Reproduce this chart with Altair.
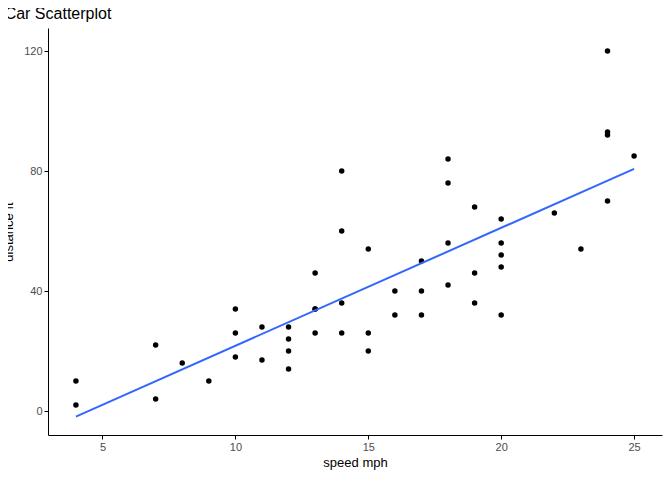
import altair as alt
import pandas as pd

speed = [4, 4, 7, 7, 8, 9, 10, 10, 10, 11, 11, 12, 12, 12, 12, 13, 13, 13, 13, 14,
         14, 14, 14, 15, 15, 15, 16, 16, 17, 17, 17, 18, 18, 18, 18, 19, 19, 19, 20, 20,
         20, 20, 20, 22, 23, 24, 24, 24, 24, 25]
dist = [2, 10, 4, 22, 16, 10, 18, 26, 34, 17, 28, 14, 20, 24, 28, 26, 34, 34, 46, 26,
        36, 60, 80, 20, 26, 54, 32, 40, 32, 40, 50, 42, 56, 76, 84, 36, 46, 68, 32, 48,
        52, 56, 64, 66, 54, 70, 92, 93, 120, 85]

source = pd.DataFrame({"speed": speed, "dist": dist})

xs = alt.Scale(domain=[2.95, 26.05], nice=False, zero=False)
ys = alt.Scale(domain=[-8, 127.7], nice=False, zero=False)
xax = alt.Axis(values=[5, 10, 15, 20, 25], grid=False, title="speed mph")
yax = alt.Axis(values=[0, 40, 80, 120], grid=False, title="distance ft", titlePadding=8)

base = alt.Chart(source)

points = base.mark_circle(size=30, color="black", opacity=1).encode(
    alt.X("speed:Q", scale=xs, axis=xax),
    alt.Y("dist:Q", scale=ys, axis=yax),
)

line = base.transform_regression("speed", "dist").mark_line(
    color="#3366FF", strokeWidth=2
).encode(
    alt.X("speed:Q", scale=xs, axis=xax),
    alt.Y("dist:Q", scale=ys, axis=yax),
)

chart = (
    alt.layer(points, line)
    .properties(
        width=614,
        height=407,
        autosize=alt.AutoSizeParams(type="none"),
        padding={"left": 40, "top": 20, "right": 2, "bottom": 37},
        title=alt.TitleParams("Car Scatterplot", anchor="start", frame="bounds", dx=2,
                              fontSize=16, fontWeight="normal", font="Liberation Sans",
                              offset=6),
    )
    .configure_view(stroke=None)
    .configure_axis(
        domainColor="black", tickColor="black", labelColor="#4d4d4d",
        labelFont="Liberation Sans", titleFont="Liberation Sans",
        labelFontSize=11, titleFontSize=13, titleFontWeight="normal", tickSize=4,
    )
)

chart.save("out.html", embed_options={"renderer": "svg", "actions": False})
